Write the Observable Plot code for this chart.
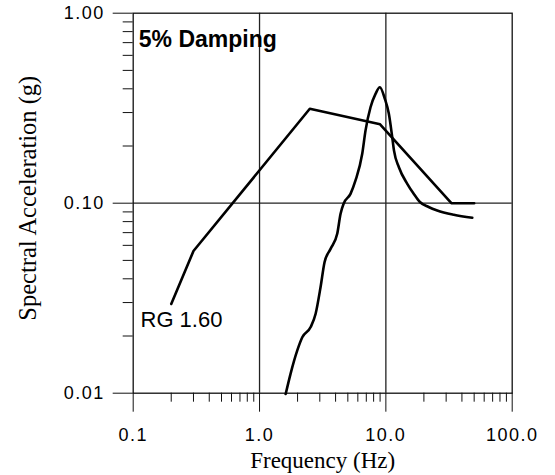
<!DOCTYPE html>
<html>
<head>
<meta charset="utf-8">
<script src="https://cdn.jsdelivr.net/npm/d3@7"></script>
<script src="https://cdn.jsdelivr.net/npm/@observablehq/plot@0.6"></script>
<style>
  html, body { margin: 0; padding: 0; background: white; }
  g[aria-label="x-axis tick label"], g[aria-label="y-axis tick label"] { letter-spacing: 1.5px; }
</style>
</head>
<body>
<div id="chart"></div>
<script>
// RG 1.60 design spectrum (Hz, g)
const rgFreq  = [0.2, 0.3, 2.5, 9, 33, 50];
const rgAccel = [0.0295, 0.056, 0.314, 0.26, 0.1, 0.1];

// Site spectrum (Hz, g)
const siteFreq  = [1.61, 1.76, 1.99, 2.18, 2.54, 2.78, 3.04, 3.27, 3.65, 4.12, 4.38, 4.65, 5.25, 5.75, 6.5, 6.9, 7.56, 8.28, 8.96, 9.82, 10.56, 11.23, 11.6, 12.68, 14.77, 16.56, 18.6, 21.8, 25.5, 34.5, 48.3];
const siteAccel = [0.0099, 0.01265, 0.0168, 0.0197, 0.0223, 0.0262, 0.0361, 0.0489, 0.0575, 0.069, 0.088, 0.1, 0.112, 0.1317, 0.182, 0.241, 0.32, 0.376, 0.408, 0.354, 0.2955, 0.2225, 0.189, 0.1547, 0.1265, 0.1125, 0.1015, 0.0955, 0.0915, 0.0869, 0.0838];

// Axes
const xMajor = [0.1, 1, 10, 100];
const xMajorLabels = ["0.1", "1.0", "10.0", "100.0"];
const xMinor = [0.2, 0.3, 0.4, 0.5, 0.6, 0.7, 0.8, 0.9, 2, 3, 4, 5, 6, 7, 8, 9, 20, 30, 40, 50, 60, 70, 80, 90];
const yMajor = [0.01, 0.1, 1];
const yMajorLabels = ["0.01", "0.10", "1.00"];
const yMinor = [0.02, 0.03, 0.04, 0.05, 0.06, 0.07, 0.08, 0.09, 0.2, 0.3, 0.4, 0.5, 0.6, 0.7, 0.8, 0.9];
const xGrid = [1, 10];
const yGrid = [0.1];

const xTitle = "Frequency (Hz)";
const yTitle = "Spectral Acceleration (g)";
const noteText = "5% Damping";
const rgLabel = "RG 1.60";

const serif = "'Liberation Serif', 'Times New Roman', serif";

const chart = Plot.plot({
  width: 555,
  height: 475,
  marginLeft: 132.7,
  marginRight: 43.3,
  marginTop: 12.7,
  marginBottom: 82.3,
  x: {type: "log", domain: [0.1, 100]},
  y: {type: "log", domain: [0.01, 1]},
  style: {fontFamily: "'Liberation Sans', Arial, sans-serif", fontSize: "18px", background: "white", color: "black"},
  marks: [
    Plot.ruleX(xGrid, {stroke: "#222", strokeWidth: 1.3}),
    Plot.ruleY(yGrid, {stroke: "#222", strokeWidth: 1.3}),
    Plot.frame({stroke: "#111", strokeWidth: 1.3}),
    Plot.axisX({ticks: xMinor, tickSize: 9, tickFormat: () => "", label: null, stroke: "#111"}),
    Plot.axisX({ticks: xMajor, tickSize: 19, tickPadding: 16.5, tickFormat: d => xMajorLabels[xMajor.indexOf(d)], label: null, fontSize: 18, stroke: "#111"}),
    Plot.axisY({ticks: yMinor, tickSize: 10, tickFormat: () => "", label: null, stroke: "#111"}),
    Plot.axisY({ticks: yMajor, tickSize: 20, tickPadding: 8.5, tickFormat: d => yMajorLabels[yMajor.indexOf(d)], label: null, fontSize: 18, stroke: "#111"}),
    Plot.line(rgFreq, {x: rgFreq, y: rgAccel, stroke: "black", strokeWidth: 2.6}),
    Plot.line(siteFreq, {x: siteFreq, y: siteAccel, stroke: "black", strokeWidth: 2.6, curve: "monotone-x"}),
    Plot.text([noteText], {frameAnchor: "top-left", dx: 5.6, dy: 33.3, textAnchor: "start", lineAnchor: "bottom", fontSize: 23, fontWeight: "bold"}),
    Plot.text([rgLabel], {frameAnchor: "top-left", dx: 7.3, dy: 314, textAnchor: "start", lineAnchor: "bottom", fontSize: 22}),
    Plot.text([xTitle], {frameAnchor: "bottom", dy: 74.6, textAnchor: "middle", lineAnchor: "bottom", fontFamily: serif, fontSize: 23}),
    Plot.text([yTitle], {frameAnchor: "left", rotate: -90, dx: -97, dy: -5, textAnchor: "middle", lineAnchor: "bottom", fontFamily: serif, fontSize: 24.5})
  ]
});
document.getElementById("chart").appendChild(chart);
</script>
</body>
</html>
